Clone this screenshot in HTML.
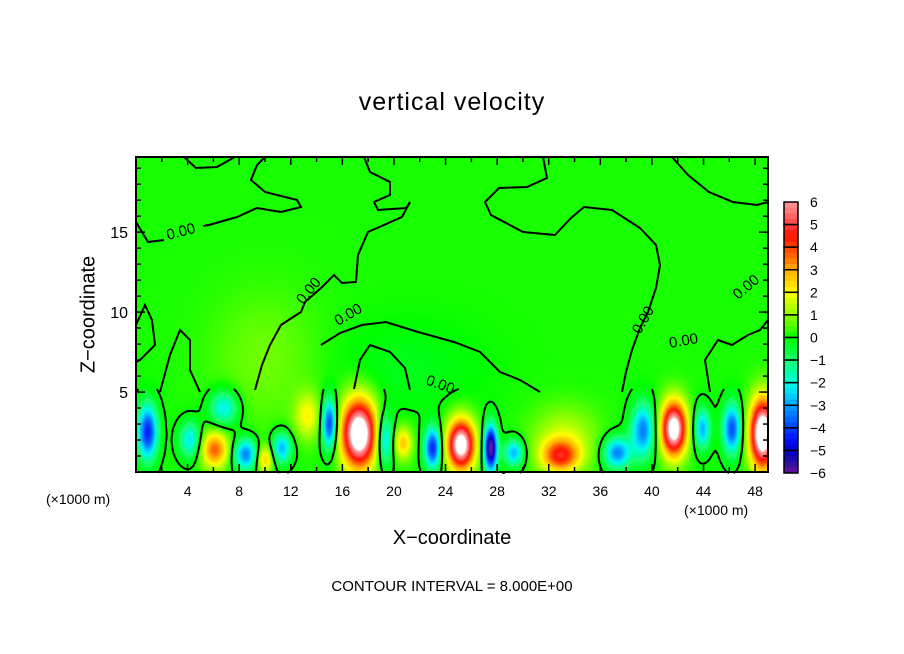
<!DOCTYPE html>
<html><head><meta charset="utf-8">
<style>
body{margin:0;background:#fff;width:904px;height:654px;overflow:hidden;font-family:"Liberation Sans",sans-serif}
#root{position:relative;width:904px;height:654px}
.t{position:absolute;color:#000;white-space:nowrap}
</style></head><body>
<div id="root">
<div class="t" style="left:0;width:904px;text-align:center;top:88px;font-size:25px;letter-spacing:1px">vertical velocity</div>
<div class="t" style="left:-6px;top:303px;width:190px;text-align:center;font-size:20px;transform:rotate(-90deg);transform-origin:center">Z−coordinate</div>
<div class="t" style="left:0;width:904px;text-align:center;top:527px;font-size:20px">X−coordinate</div>
<div class="t" style="left:46px;top:491px;font-size:14px">(×1000 m)</div>
<div class="t" style="left:684px;top:502px;font-size:14px">(×1000 m)</div>
<div class="t" style="left:0;width:904px;text-align:center;top:578px;font-size:15px">CONTOUR INTERVAL = 8.000E+00</div>
<canvas id="field" width="632" height="315" style="position:absolute;left:136px;top:157px"></canvas>
<svg id="ov" width="904" height="654" style="position:absolute;left:0;top:0"></svg>
</div>
<script>
// data (km)
const blobX   = [0.9, 4.2, 6.1, 8.5, 6.8, 10.0, 11.3, 13.3, 15.0, 17.3, 19.3, 20.7, 23.0, 25.2, 27.5, 29.3, 32.9, 33.2, 37.3, 39.3, 41.7, 43.9, 46.2, 48.6, 21.0, 10.0];
const blobZ   = [2.5, 2.0, 1.4, 1.1, 4.0, 0.8, 1.5, 3.5, 3.0, 2.4, 2.0, 1.8, 1.5, 1.7, 1.5, 1.2, 1.0, 2.0, 1.2, 2.6, 2.7, 2.7, 2.7, 2.4, 6.5, 7.0];
const blobAmp = [-4.5,-2.5,3.5,-3.5,-2.5,2.5,-3.0,1.8,-4.5,7.8,-3.0,2.5,-4.5,7.2,-6.5,-3.0,3.6,1.4,-3.5,-3.5,7.2,-3.0,-4.0,8.0,-0.4,0.6];
const blobSX  = [0.55,0.6, 0.75,0.65,0.8, 0.45,0.55,0.7, 0.4, 0.95,0.45,0.5, 0.45,0.75,0.35,0.55,1.0, 1.8, 0.75,0.65,0.7, 0.45,0.5, 0.7, 4.0, 3.0];
const blobSZ  = [1.2, 0.8, 0.8, 0.7, 0.8, 0.6, 0.7, 1.0, 1.1, 1.5, 1.1, 0.7, 0.9, 1.1, 1.0, 0.6, 0.7, 1.4, 0.7, 1.2, 1.2, 0.9, 1.1, 1.5, 2.0, 3.0];
const background = 0.15;
const colorLevels = [6,5,4,3,2,1,0,-1,-2,-3,-4,-5,-6];
const xTicks = [4,8,12,16,20,24,28,32,36,40,44,48];
const yTicks = [5,10,15];

const X0=136,X1=768,Y0=157,Y1=472, XMAX=49.0, ZMAX=19.7;
const sx=x=>X0+x/XMAX*(X1-X0), sz=z=>Y1-z/ZMAX*(Y1-Y0);
const ix=p=>(p-X0)/(X1-X0)*XMAX, iz=p=>(Y1-p)/(Y1-Y0)*ZMAX;
function field(x,z){let v=background;for(let i=0;i<blobX.length;i++){const dx=(x-blobX[i])/blobSX[i],dz=(z-blobZ[i])/blobSZ[i];v+=blobAmp[i]*Math.exp(-0.5*(dx*dx+dz*dz));}return v;}
const stops=[[-6,[112,16,160]],[-5.5,[32,16,160]],[-5,[0,0,200]],[-4.5,[0,16,255]],[-4,[0,64,255]],[-3.5,[0,112,255]],[-3,[0,160,255]],[-2.5,[0,216,255]],[-2,[0,255,224]],[-1.5,[0,255,160]],[-1,[32,255,112]],[-0.5,[0,255,48]],[0,[0,255,0]],[0.5,[80,255,0]],[1,[144,255,0]],[1.5,[200,255,0]],[2,[255,255,0]],[2.5,[255,208,0]],[3,[255,176,0]],[3.5,[255,112,0]],[4,[255,64,0]],[4.5,[255,16,0]],[5,[255,64,64]],[5.5,[255,112,112]],[6,[255,153,153]],[6.4,[255,255,255]]];
function col(v){if(v<=stops[0][0])return stops[0][1];for(let i=1;i<stops.length;i++){if(v<=stops[i][0]){const a=stops[i-1],b=stops[i],t=(v-a[0])/(b[0]-a[0]);return a[1].map((c,k)=>Math.round(c+(b[1][k]-c)*t));}}return [255,255,255];}
const cv=document.getElementById('field'),ctx=cv.getContext('2d'),img=ctx.createImageData(632,315);
for(let j=0;j<315;j++)for(let i=0;i<632;i++){const c=col(field(ix(X0+i+0.5),iz(Y0+j+0.5)));const o=(j*632+i)*4;img.data[o]=c[0];img.data[o+1]=c[1];img.data[o+2]=c[2];img.data[o+3]=255;}
ctx.putImageData(img,0,0);

const NS='http://www.w3.org/2000/svg',svg=document.getElementById('ov');
function mk(t,a){const e=document.createElementNS(NS,t);for(const k in a)e.setAttribute(k,a[k]);svg.appendChild(e);return e;}
let d='';const st=3;
for(let py=389;py<Y1;py+=st)for(let px=X0;px<X1;px+=st){
 const p=[[px,py],[px+st,py],[px+st,py+st],[px,py+st]],v=p.map(q=>field(ix(q[0]),iz(q[1])));
 const pts=[];for(let k=0;k<4;k++){const a=v[k],b=v[(k+1)%4];if((a>0)!==(b>0)){const t=a/(a-b),A=p[k],B=p[(k+1)%4];pts.push([A[0]+(B[0]-A[0])*t,A[1]+(B[1]-A[1])*t]);}}
 for(let k=0;k+1<pts.length;k+=2)d+=`M${pts[k][0].toFixed(1)} ${pts[k][1].toFixed(1)}L${pts[k+1][0].toFixed(1)} ${pts[k+1][1].toFixed(1)}`;
}
let e=mk('path',{d:d,stroke:'#000','stroke-width':2,fill:'none'});


const lines=[
'M136 222L148 242L164 240M203 226L209 225L237 217L257 208L281 212L301 207L297 200L265 192L251 180L257 165L265 157',
'M184 157L196 168L217 167L233 158L235 157',
'M364 157L370 172L390 182L390 195L374 202L378 210L406 208L410 202L402 217L368 232L358 255L356 282L342 283L334 275L321 288L305 302L301 312L281 325L270 345L262 365L255 390',
'M543 157L547 178L527 187L499 188L485 202L491 215L523 232L555 235L571 218L584 207L612 210L640 228L656 245L660 265L656 288L648 312L640 328L632 350L626 372L622 392',
'M672 157L688 175L709 192L733 202L757 205L768 202',
'M321 345L340 333L362 325L386 322L418 332L454 342L480 352L500 372L520 380L540 392',
'M354 389L360 360L370 345L390 352L405 368L410 390',
'M136 325L145 305L152 320L155 345L140 360L136 362',
'M160 392L170 355L180 330L190 340L190 370L200 392',
'M710 392L705 360L718 340L732 345L748 335L760 330L768 320'];
lines.forEach((p,i)=>{const l=mk('path',{d:p,stroke:'#000','stroke-width':2,fill:'none'});

});
[[168,240,-15],[303,305,-50],[338,326,-30],[425,384,20],[640,335,-60],[670,348,-10],[738,300,-40]].forEach(q=>{const t=mk('text',{x:q[0],y:q[1],'font-size':15,'font-family':'Liberation Sans, sans-serif',transform:`rotate(${q[2]} ${q[0]} ${q[1]})`});t.textContent='0.00';

});
e=mk('rect',{x:X0,y:Y0,width:X1-X0,height:Y1-Y0,fill:'none',stroke:'#000','stroke-width':2});


for(let z=1;z<ZMAX;z++){const y=sz(z),L=z%5===0?9:5;mk('line',{x1:X0,x2:X0+L,y1:y,y2:y,stroke:'#000','stroke-width':1.5});mk('line',{x1:X1,x2:X1-L,y1:y,y2:y,stroke:'#000','stroke-width':1.5});}
for(let x=2;x<XMAX;x+=2){const px=sx(x),L=x%4===0?8:5;mk('line',{x1:px,x2:px,y1:Y1,y2:Y1-L,stroke:'#000','stroke-width':1.5});mk('line',{x1:px,x2:px,y1:Y0,y2:Y0+L,stroke:'#000','stroke-width':1.5});}
xTicks.forEach(v=>{const t=mk('text',{x:sx(v),y:496,'text-anchor':'middle','font-size':14,'font-family':'Liberation Sans, sans-serif'});t.textContent=v;

});
yTicks.forEach(v=>{const t=mk('text',{x:128,y:sz(v)+6,'text-anchor':'end','font-size':16,'font-family':'Liberation Sans, sans-serif'});t.textContent=v;

});
const CB0=202,CB1=473,n=colorLevels.length-1,h=(CB1-CB0)/n;
for(let i=0;i<n;i++){for(let s=0;s<4;s++){const v=colorLevels[i]-(s+0.5)/4;const c=col(v);mk('rect',{x:784,y:CB0+i*h+s*h/4,width:14,height:h/4+0.5,fill:`rgb(${c})`});}
 const r=mk('rect',{x:784,y:CB0+i*h,width:14,height:h,fill:'none',stroke:'#000','stroke-width':1.5});
 
 }
colorLevels.forEach((v,i)=>{const t=mk('text',{x:810,y:CB0+i*h+5,'font-size':14,'font-family':'Liberation Sans, sans-serif'});t.textContent=v<0?'−'+(-v):v;

});
</script>
</body></html>
